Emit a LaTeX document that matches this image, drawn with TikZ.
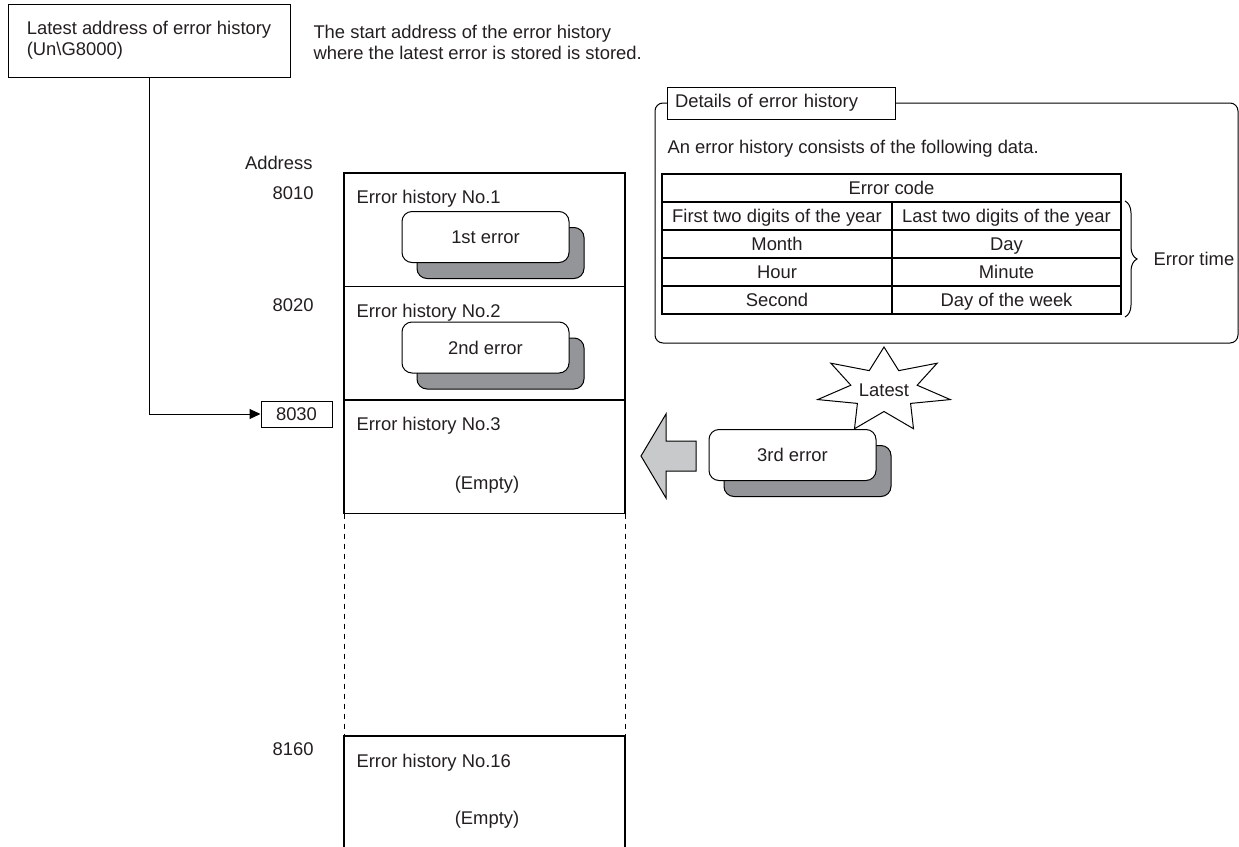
\documentclass[tikz,border=0pt]{standalone}
\usepackage{fontspec}
\setmainfont{Liberation Sans}
\definecolor{inkgray}{RGB}{35,31,32}
\definecolor{shadowgray}{RGB}{147,149,152}
\definecolor{arrowgray}{RGB}{200,201,202}
\usetikzlibrary{shapes, arrows.meta, positioning, calc, decorations.pathreplacing}

\tikzset{
  txt/.style={inner sep=0pt, text=inkgray, text height=6.6pt, text depth=0pt},
  slot/.style={draw, line width=0.6pt, minimum width=140.5pt, minimum height=56.75pt, inner sep=0pt, outer sep=0pt},
  card/.style={draw, fill=white, rounded corners=5pt, minimum width=83.5pt, minimum height=25.5pt, text=inkgray},
  cardshadow/.style={draw, fill=shadowgray, rounded corners=5pt, minimum width=83.5pt, minimum height=25.5pt},
}
% error card with its grey shadow
\newcommand{\errcard}[3]{%
  \node[cardshadow] (#1s) at ($(#2)+(15,16)$) {};
  \node[card] (#1) at (#2) {#3};}

\begin{document}
\begin{tikzpicture}[x=0.5pt, y=-0.5pt, font=\fontsize{9.2}{10.5}\selectfont, line width=0.5pt]
  \useasboundingbox (0,0) rectangle (1239,847);

  % pointer to the latest entry
  \node[draw, align=left, minimum width=141pt, minimum height=36.5pt, text=inkgray] (latestaddr) at (149,40.5)
    {Latest address of error history\\(Un\textbackslash G8000)};
  \node[inner sep=0pt, text=inkgray, anchor=west, align=left] (startdesc) at (313,42.5)
    {The start address of the error history\\where the latest error is stored is stored.};

  % address column
  \node[txt, anchor=east] (addrhead) at (313,163) {Address};
  \node[txt, anchor=east] (a8010) at (314,193) {8010};
  \node[txt, anchor=east] (a8020) at (314,305) {8020};
  \node[draw, text=inkgray, minimum width=35.5pt, minimum height=13pt, inner sep=0pt] (a8030) at (296.5,414) {8030};
  \node[txt, anchor=east] (a8160) at (314,749) {8160};
  \draw[-{Triangle[length=5.5pt, width=5pt]}] (latestaddr.south) |- (a8030.west);

  % error history slots
  \node[slot] (row1) at (484.5,229.75) {};
  \node[slot, below=0pt of row1] (row2) {};
  \node[slot, below=0pt of row2] (row3) {};
  \coordinate (row16) at (344,736);
  \draw[line width=0.6pt] (row16 |- 0,847) -- (row16) -- (625,736) -- (625,847);
  \draw[dash pattern=on 2.5pt off 2.5pt] (row3.south west) -- (row16);
  \draw[dash pattern=on 2.5pt off 2.5pt] (row3.south east) -- (row16 -| row3.east);
  \foreach \r/\n in {row1/1, row2/2, row3/3}
    \node[txt, anchor=west] (title\n) at ($(\r.north west)+(12,24)$) {Error history No.\n};
  \node[txt, anchor=west] (title16) at ($(row16)+(12,25)$) {Error history No.16};
  \node[txt] (empty3) at (487,483) {(Empty)};
  \node[txt] (empty16) at (487,818) {(Empty)};

  \errcard{err1}{485.5,237}{1st error}
  \errcard{err2}{485.5,347.5}{2nd error}

  % details of one entry
  \node[draw, rounded corners=4pt, minimum width=291.5pt, minimum height=120pt] (details) at (946.5,223) {};
  \node[draw, fill=white, text=inkgray, minimum height=16pt, text width=106pt, inner xsep=4pt, align=left] (dtab) at (781,103) {Details of error history};
  \node[txt, anchor=west] (dintro) at (667,147) {An error history consists of the following data.};
  \node[draw, line width=0.6pt, minimum width=229.5pt, minimum height=70pt, inner sep=0pt] (tbl) at (891.5,244) {};
  \foreach \y in {202,230,258,286}
    \draw[line width=0.6pt] (662,\y) -- (1121,\y);
  \draw[line width=0.6pt] (892,202) -- (892,314);
  \node[txt] (ecode) at (891.5,188) {Error code};
  \foreach \y/\l/\r in {216/First two digits of the year/Last two digits of the year,
                        244/Month/Day, 272/Hour/Minute, 300/Second/Day of the week} {
    \node[txt] (L\y) at (777,\y) {\l};
    \node[txt] (R\y) at (1006.5,\y) {\r};
  }
  \coordinate (bracetop) at (1125,201);
  \coordinate (bracebot) at (1125,317);
  \draw[decorate, decoration={brace, amplitude=6pt}] (bracetop) -- (bracebot);
  \node[txt, anchor=west] (errtime) at (1153,259) {Error time};

  % newest entry
  \coordinate (starc) at (884,390);
  \draw[fill=white] ($(starc)+(90:34pt and 21.5pt)$)
    \foreach \k in {0,...,6} {
      -- ($(starc)+({90+\k*360/7+360/14}:17pt and 10.75pt)$)
      -- ($(starc)+({90+(\k+1)*360/7}:34pt and 21.5pt)$)
    } -- cycle;
  \node[txt] (latest) at (starc) {Latest};
  \draw[fill=arrowgray] (641,456) -- (666,414) -- (666,441) -- (696,441) -- (696,471) -- (666,471) -- (666,498) -- cycle;
  \errcard{err3}{792.5,455}{3rd error}
\end{tikzpicture}
\end{document}
